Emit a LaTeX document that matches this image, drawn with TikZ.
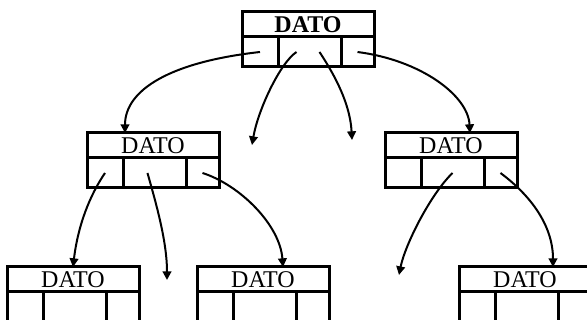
\documentclass[tikz,border=0pt]{standalone}
\usepackage{fontspec}
\setmainfont{Liberation Serif}
\usetikzlibrary{arrows.meta,calc}

\tikzset{
  cabecera/.style={draw,line width=2.25pt,minimum width=99pt,minimum height=18.75pt,
    inner sep=0pt,outer sep=0pt,font=\fontsize{18}{18}\selectfont},
  celda/.style={draw,line width=2.25pt,minimum height=22.5pt,inner sep=0pt,outer sep=0pt},
  enlace/.style={line width=1.5pt,-{Triangle[length=6.5pt,width=6.5pt]}}
}
% record: header with the data and three pointer cells
\newcommand{\registro}[4]{%
  \node[cabecera,anchor=north west] (#1) at (#2,#3) {#4};
  \node[celda,minimum width=27pt,anchor=north west] (#1-i) at (#1.south west) {};
  \node[celda,minimum width=47.25pt,anchor=west] (#1-m) at (#1-i.east) {};
  \node[celda,minimum width=24.75pt,anchor=west] (#1-d) at (#1-m.east) {};
}

\begin{document}
\begin{tikzpicture}[x=0.75pt,y=-0.75pt]
  \useasboundingbox (0,0) rectangle (587,320);
  \clip (0,0) rectangle (587,320);
  \registro{t}{242}{12}{\bfseries DATO}
  \registro{ml}{87}{133}{DATO}
  \registro{mr}{385}{133}{DATO}
  \registro{bl}{7}{267}{DATO}
  \registro{bm}{197}{267}{DATO}
  \registro{br}{459}{267}{DATO}
  \coordinate (fin1) at (252,145);
  \coordinate (fin2) at (352,140);
  \coordinate (fin3) at (167,280);
  \coordinate (fin4) at (399,275);
  % links from the root
  \draw[enlace] (t-i.center) .. controls (170,62) and (125,90) .. ($(ml.north west)+(38,0)$);
  \draw[enlace] ($(t-m.center)+(-13,0)$) .. controls (280,63) and (258,110) .. (fin1);
  \draw[enlace] ($(t-m.center)+(10,0)$) .. controls (330,68) and (350,100) .. (fin2);
  \draw[enlace] (t-d.center) .. controls (420,60) and (468,95) .. ($(mr.north west)+(85,0)$);
  % links from the second level
  \draw[enlace] (ml-i.center) .. controls (90,195) and (78,225) .. (bl.north);
  \draw[enlace] ($(ml-m.center)+(-7,0)$) .. controls (155,200) and (167,240) .. (fin3);
  \draw[enlace] (ml-d.center) .. controls (240,185) and (280,225) .. ($(bm.north west)+(86,0)$);
  \draw[enlace] (mr-m.center) .. controls (430,195) and (405,245) .. (fin4);
  \draw[enlace] (mr-d.center) .. controls (530,195) and (553,225) .. ($(br.north west)+(94,0)$);
\end{tikzpicture}
\end{document}
